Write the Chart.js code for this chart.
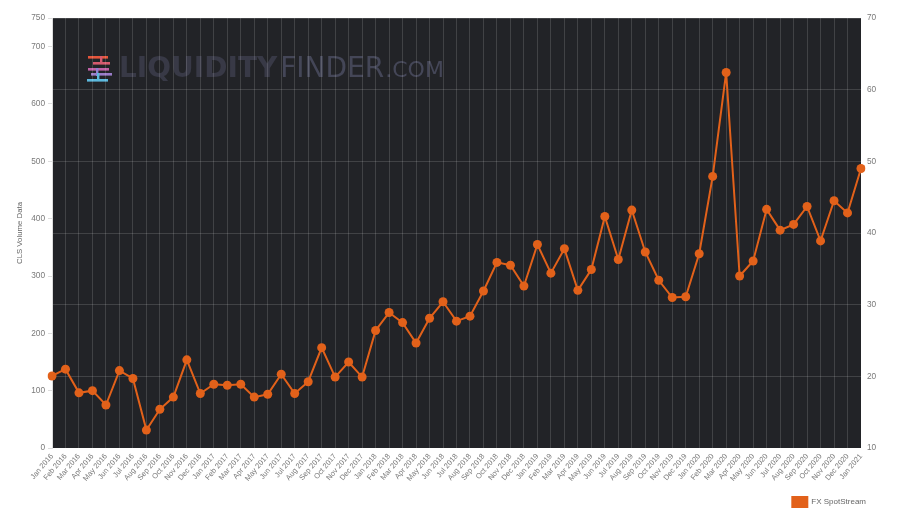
<!DOCTYPE html>
<html>
<head>
<meta charset="utf-8">
<script src="https://cdn.jsdelivr.net/npm/chart.js@4"></script>
<style>
html,body{margin:0;padding:0;background:#fff;}
#wrap{width:902px;height:517px;}
</style>
</head>
<body>
<div id="wrap"><canvas id="c" width="902" height="517"></canvas></div>
<script>
const categories = ["Jan 2016","Feb 2016","Mar 2016","Apr 2016","May 2016","Jun 2016","Jul 2016","Aug 2016","Sep 2016","Oct 2016","Nov 2016","Dec 2016",
"Jan 2017","Feb 2017","Mar 2017","Apr 2017","May 2017","Jun 2017","Jul 2017","Aug 2017","Sep 2017","Oct 2017","Nov 2017","Dec 2017",
"Jan 2018","Feb 2018","Mar 2018","Apr 2018","May 2018","Jun 2018","Jul 2018","Aug 2018","Sep 2018","Oct 2018","Nov 2018","Dec 2018",
"Jan 2019","Feb 2019","Mar 2019","Apr 2019","May 2019","Jun 2019","Jul 2019","Aug 2019","Sep 2019","Oct 2019","Nov 2019","Dec 2019",
"Jan 2020","Feb 2020","Mar 2020","Apr 2020","May 2020","Jun 2020","Jul 2020","Aug 2020","Sep 2020","Oct 2020","Nov 2020","Dec 2020",
"Jan 2021"];
const fxSpotStream = [20.05,21.0,17.7,18.0,16.0,20.8,19.7,12.5,15.4,17.1,22.3,17.6,
18.9,18.75,18.9,17.1,17.5,20.3,17.6,19.25,24.0,19.9,22.0,19.9,
26.4,28.9,27.5,24.65,28.1,30.4,27.7,28.4,31.9,35.9,35.5,32.6,
38.4,34.4,37.8,32.0,34.9,42.3,36.3,43.2,37.35,33.4,31.0,31.1,
37.1,47.9,62.4,34.0,36.1,43.3,40.4,41.2,43.7,38.9,44.5,42.8,
49.0];
const seriesName = "FX SpotStream";
const leftAxisTitle = "CLS Volume Data";
const leftAxisRange = [0, 750, 100];
const rightAxisRange = [10, 70, 10];
const logoWords = ["LIQUIDITY", "FINDER", ".COM"];

const ORANGE = '#e2611a';
const TICK = '#7a7a7a';
const FONT = '"Liberation Sans", Arial, Helvetica, sans-serif';

const bgPlugin = {
  id: 'bg',
  afterLayout(chart) {
    const l = chart.legend;
    if (l) { l.right = 876; l.width = l.right - l.left; }
  },
  beforeDraw(chart) {
    const {ctx, chartArea: a} = chart;
    ctx.save();
    ctx.fillStyle = '#222327';
    ctx.fillRect(a.left, a.top, a.right - a.left, a.bottom - a.top);
    // logo icon
    const bars = [
      ['#e4553b', 88, 56, 20], ['#d65a6e', 93, 62, 17], ['#c061a6', 88, 68, 21],
      ['#9a7cc8', 91, 73, 21], ['#5cb8dc', 87, 79, 21]
    ];
    bars.forEach(b => { ctx.fillStyle = b[0]; ctx.fillRect(b[1], b[2], b[3], 2.6); });
    ctx.fillStyle = '#d35a70'; ctx.fillRect(100, 56, 2.4, 8);
    ctx.fillStyle = '#8f7fcf'; ctx.fillRect(96, 68, 2.4, 8);
    ctx.fillStyle = '#5cb8dc'; ctx.fillRect(97, 73, 2.4, 8);
    // logo text
    ctx.textBaseline = 'alphabetic';
    let x = 119;
    ctx.font = 'bold 28px "DejaVu Sans", sans-serif';
    ctx.fillStyle = '#383946';
    ctx.fillText(logoWords[0], x, 77);
    x += ctx.measureText(logoWords[0]).width + 3;
    ctx.font = '28px "DejaVu Sans", sans-serif';
    ctx.fillStyle = '#444657';
    ctx.fillText(logoWords[1], x, 77);
    x += ctx.measureText(logoWords[1]).width + 1;
    ctx.font = '22px "DejaVu Sans", sans-serif';
    ctx.fillText(logoWords[2], x, 77);
    ctx.restore();
  }
};

new Chart(document.getElementById('c'), {
  type: 'line',
  data: {
    labels: categories,
    datasets: [{
      label: seriesName,
      data: fxSpotStream,
      yAxisID: 'yRight',
      borderColor: ORANGE,
      backgroundColor: ORANGE,
      borderWidth: 2,
      pointRadius: 4.5,
      pointBorderWidth: 0,
      pointBackgroundColor: ORANGE,
      tension: 0,
      fill: false
    }]
  },
  options: {
    responsive: false,
    animation: false,
    layout: {padding: {left: 0, right: 0, top: 18, bottom: 0}},
    plugins: {
      legend: {
        position: 'bottom',
        align: 'end',
        labels: {boxWidth: 15, boxHeight: 10, padding: 10, color: '#666', font: {family: FONT, size: 8}}
      },
      tooltip: {enabled: false}
    },
    scales: {
      x: {
        offset: false,
        grid: {color: 'rgba(255,255,255,0.14)', drawTicks: false},
        border: {display: false},
        ticks: {color: TICK, font: {family: FONT, size: 7.5}, minRotation: 50, maxRotation: 50, autoSkip: false, padding: 4},
        afterFit(s) { s.height = 39; }
      },
      yLeft: {
        type: 'linear',
        position: 'left',
        min: leftAxisRange[0], max: leftAxisRange[1],
        grid: {drawOnChartArea: false, color: '#ddd', tickLength: 4},
        border: {color: '#ddd'},
        ticks: {stepSize: leftAxisRange[2], color: TICK, font: {family: FONT, size: 8.3}, padding: 3},
        title: {display: true, text: leftAxisTitle, color: '#666', font: {family: FONT, size: 7.8}, padding: {top: 15, bottom: 0}},
        afterFit(s) { s.width = 52; }
      },
      yRight: {
        type: 'linear',
        position: 'right',
        min: rightAxisRange[0], max: rightAxisRange[1],
        grid: {color: 'rgba(255,255,255,0.14)', drawTicks: false},
        border: {display: false},
        ticks: {stepSize: rightAxisRange[2], color: TICK, font: {family: FONT, size: 8.3}, padding: 6},
        afterFit(s) { s.width = 902 - 861; }
      }
    }
  },
  plugins: [bgPlugin]
});
</script>
</body>
</html>
